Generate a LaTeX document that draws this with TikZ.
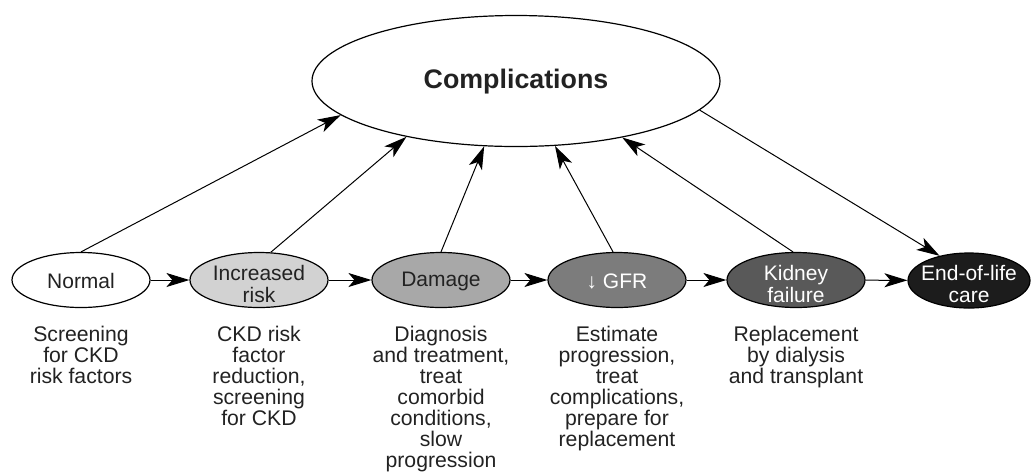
\documentclass[tikz,border=0pt]{standalone}
\usepackage{fontspec}
\setmainfont{Liberation Sans}
\usetikzlibrary{shapes.geometric,arrows.meta}
\definecolor{gA}{HTML}{D2D2D2}
\definecolor{gB}{HTML}{A8A8A8}
\definecolor{gC}{HTML}{7C7C7C}
\definecolor{gD}{HTML}{595959}
\definecolor{gE}{HTML}{1C1C1C}
\definecolor{txt}{HTML}{222222}
\begin{document}
\begin{tikzpicture}[x=0.5pt,y=-0.5pt,
  stage/.style={ellipse,draw=black,line width=0.6pt,minimum width=69pt,minimum height=27.5pt,inner sep=0pt},
  lbl/.style={align=center,inner sep=0pt,font=\fontsize{10.5}{11}\selectfont,text=txt},
  wlbl/.style={lbl,text=white},
  desc/.style={align=center,inner sep=0pt,anchor=north,font=\fontsize{10.6}{10.5}\selectfont,text=txt},
  arr/.style={-{Stealth[length=11.5pt,width=7pt,inset=3pt]},line width=0.5pt}]
\useasboundingbox (0,0) rectangle (1034,473);
% big ellipse
\node[stage,minimum width=204pt,minimum height=65.5pt] (C) at (516,81) {};
\node[inner sep=0pt,font=\fontsize{13.4}{14}\selectfont\bfseries,text=txt] (Ct) at (516,82) {Complications};
% stages
\node[stage,fill=white] (N) at (81,280) {};
\node[stage,fill=gA] (I) at (259,280) {};
\node[stage,fill=gB] (D) at (441,280) {};
\node[stage,fill=gC] (G) at (617,280) {};
\node[stage,fill=gD] (K) at (796,280) {};
\node[stage,fill=gE,minimum width=61pt] (E) at (969,280.5) {};
% stage labels
\node[lbl] (Nt) at (81,281) {Normal};
\node[lbl] (It) at (259,284) {Increased\\risk};
\node[lbl] (Dt) at (441,281) {Damage};
\node[wlbl] (Gt) at (617,281) {↓ GFR};
\node[wlbl] (Kt) at (796,284) {Kidney\\failure};
\node[wlbl] (Et) at (969,284) {End-of-life\\care};
% descriptions
\node[desc] (Nd) at (81,326) {Screening\\for CKD\\risk factors};
\node[desc] (Id) at (259,326) {CKD risk\\factor\\reduction,\\screening\\for CKD};
\node[desc] (Dd) at (441,326) {Diagnosis\\and treatment,\\treat\\comorbid\\conditions,\\slow\\progression};
\node[desc] (Gd) at (617,326) {Estimate\\progression,\\treat\\complications,\\prepare for\\replacement};
\node[desc] (Kd) at (796,326) {Replacement\\by dialysis\\and transplant};
% horizontal arrows
\draw[arr] (N) -- (I);
\draw[arr] (I) -- (D);
\draw[arr] (D) -- (G);
\draw[arr] (G) -- (K);
\draw[arr] (K) -- (E);
% arrows to complications
\draw[arr] (N.north) -- (C.191.7);
\draw[arr] (I.67.8) -- (C.207.8);
\draw[arr] (D.north) -- (C.244.1);
\draw[arr] (G.98) -- (C.301.8);
\draw[arr] (K.96) -- (C.332.8);
\draw[arr] (C.351.3) -- (E.140);
\end{tikzpicture}
\end{document}
